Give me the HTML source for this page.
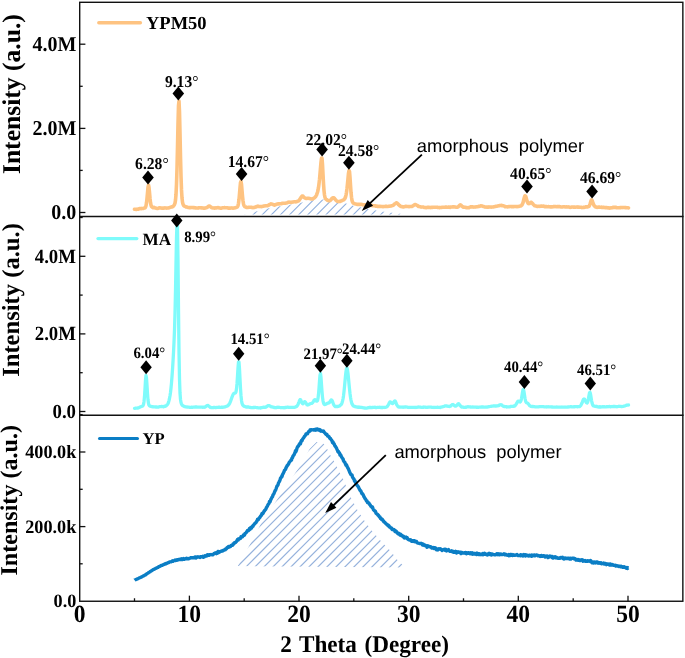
<!DOCTYPE html>
<html><head><meta charset="utf-8"><title>XRD</title>
<style>html,body{margin:0;padding:0;background:#fff;overflow:hidden}svg{display:block;will-change:transform}text{text-rendering:geometricPrecision;-webkit-font-smoothing:antialiased}</style>
</head><body>
<svg width="685" height="658" viewBox="0 0 685 658">
<rect width="685" height="658" fill="#fff"/>
<defs>
<clipPath id="h1"><path d="M244.0,214.6 L244.0,214.6 L246.0,214.1 L248.0,213.6 L250.0,213.1 L252.0,212.5 L254.0,212.0 L256.0,211.5 L258.0,211.0 L260.0,210.4 L262.0,209.9 L264.0,209.3 L266.0,208.8 L268.0,208.4 L270.0,208.0 L272.0,207.6 L274.0,207.2 L276.0,206.9 L278.0,206.6 L280.0,206.2 L282.0,205.9 L284.0,205.7 L286.0,205.4 L288.0,205.1 L290.0,204.8 L292.0,204.5 L294.0,204.1 L296.0,203.7 L298.0,203.3 L300.0,202.9 L302.0,202.5 L304.0,202.1 L306.0,201.7 L308.0,201.3 L310.0,200.9 L312.0,200.6 L314.0,200.3 L316.0,200.1 L318.0,199.8 L320.0,199.7 L322.0,199.6 L324.0,199.6 L326.0,199.7 L328.0,199.9 L330.0,200.1 L332.0,200.3 L334.0,200.5 L336.0,200.9 L338.0,201.3 L340.0,201.8 L342.0,202.3 L344.0,202.8 L346.0,203.4 L348.0,204.1 L350.0,204.7 L352.0,205.3 L354.0,205.9 L356.0,206.4 L358.0,206.8 L360.0,207.3 L362.0,207.8 L364.0,208.2 L366.0,208.6 L368.0,209.0 L370.0,209.4 L372.0,209.8 L374.0,210.1 L376.0,210.5 L378.0,210.8 L380.0,211.1 L382.0,211.4 L384.0,211.7 L386.0,212.0 L388.0,212.3 L390.0,212.5 L392.0,212.8 L394.0,213.0 L396.0,213.3 L398.0,213.5 L400.0,213.7 L402.0,213.9 L404.0,214.2 L406.0,214.4 L408.0,214.6 L408.0,214.6 Z"/></clipPath>
<clipPath id="h3"><path d="M237.8,566.0 L238.7,564.4 L250.5,543.5 L260.8,524.1 L276.7,500.2 L298.2,468.8 L309.8,448.7 L316.5,442.0 L323.8,443.8 L327.4,449.3 L330.5,455.4 L333.9,460.9 L336.9,466.9 L339.8,473.0 L342.9,478.5 L345.7,485.2 L348.7,491.3 L351.1,498.0 L357.8,510.7 L364.8,521.3 L371.9,530.8 L381.3,541.4 L390.8,551.2 L397.8,560.6 L405.5,567.5 L408.4,567.5 Z"/></clipPath>
<clipPath id="c2"><rect x="79.7" y="216.5" width="603.15" height="198.7"/></clipPath>
</defs>
<g clip-path="url(#h1)" stroke="#8eaedd" stroke-width="1.08" fill="none"><line x1="206.4" y1="216.0" x2="227.4" y2="195.0"/><line x1="215.5" y1="216.0" x2="236.5" y2="195.0"/><line x1="224.6" y1="216.0" x2="245.6" y2="195.0"/><line x1="233.7" y1="216.0" x2="254.7" y2="195.0"/><line x1="242.8" y1="216.0" x2="263.8" y2="195.0"/><line x1="251.9" y1="216.0" x2="272.9" y2="195.0"/><line x1="261.0" y1="216.0" x2="282.0" y2="195.0"/><line x1="270.1" y1="216.0" x2="291.1" y2="195.0"/><line x1="279.2" y1="216.0" x2="300.2" y2="195.0"/><line x1="288.3" y1="216.0" x2="309.3" y2="195.0"/><line x1="297.4" y1="216.0" x2="318.4" y2="195.0"/><line x1="306.5" y1="216.0" x2="327.5" y2="195.0"/><line x1="315.6" y1="216.0" x2="336.6" y2="195.0"/><line x1="324.7" y1="216.0" x2="345.7" y2="195.0"/><line x1="333.8" y1="216.0" x2="354.8" y2="195.0"/><line x1="342.9" y1="216.0" x2="363.9" y2="195.0"/><line x1="352.0" y1="216.0" x2="373.0" y2="195.0"/><line x1="361.1" y1="216.0" x2="382.1" y2="195.0"/><line x1="370.2" y1="216.0" x2="391.2" y2="195.0"/><line x1="379.3" y1="216.0" x2="400.3" y2="195.0"/><line x1="388.4" y1="216.0" x2="409.4" y2="195.0"/><line x1="397.5" y1="216.0" x2="418.5" y2="195.0"/><line x1="406.6" y1="216.0" x2="427.6" y2="195.0"/><line x1="415.7" y1="216.0" x2="436.7" y2="195.0"/></g>
<g clip-path="url(#h3)" stroke="#94b1dc" stroke-width="1.1" fill="none"><line x1="91.9" y1="568.0" x2="221.9" y2="438.0"/><line x1="100.9" y1="568.0" x2="230.9" y2="438.0"/><line x1="109.9" y1="568.0" x2="239.9" y2="438.0"/><line x1="118.9" y1="568.0" x2="248.9" y2="438.0"/><line x1="127.9" y1="568.0" x2="257.9" y2="438.0"/><line x1="136.9" y1="568.0" x2="266.9" y2="438.0"/><line x1="145.9" y1="568.0" x2="275.9" y2="438.0"/><line x1="154.9" y1="568.0" x2="284.9" y2="438.0"/><line x1="163.9" y1="568.0" x2="293.9" y2="438.0"/><line x1="172.9" y1="568.0" x2="302.9" y2="438.0"/><line x1="181.9" y1="568.0" x2="311.9" y2="438.0"/><line x1="190.9" y1="568.0" x2="320.9" y2="438.0"/><line x1="199.9" y1="568.0" x2="329.9" y2="438.0"/><line x1="208.9" y1="568.0" x2="338.9" y2="438.0"/><line x1="217.9" y1="568.0" x2="347.9" y2="438.0"/><line x1="226.9" y1="568.0" x2="356.9" y2="438.0"/><line x1="235.9" y1="568.0" x2="365.9" y2="438.0"/><line x1="244.9" y1="568.0" x2="374.9" y2="438.0"/><line x1="253.9" y1="568.0" x2="383.9" y2="438.0"/><line x1="262.9" y1="568.0" x2="392.9" y2="438.0"/><line x1="271.9" y1="568.0" x2="401.9" y2="438.0"/><line x1="280.9" y1="568.0" x2="410.9" y2="438.0"/><line x1="289.9" y1="568.0" x2="419.9" y2="438.0"/><line x1="298.9" y1="568.0" x2="428.9" y2="438.0"/><line x1="307.9" y1="568.0" x2="437.9" y2="438.0"/><line x1="316.9" y1="568.0" x2="446.9" y2="438.0"/><line x1="325.9" y1="568.0" x2="455.9" y2="438.0"/><line x1="334.9" y1="568.0" x2="464.9" y2="438.0"/><line x1="343.9" y1="568.0" x2="473.9" y2="438.0"/><line x1="352.9" y1="568.0" x2="482.9" y2="438.0"/><line x1="361.9" y1="568.0" x2="491.9" y2="438.0"/><line x1="370.9" y1="568.0" x2="500.9" y2="438.0"/><line x1="379.9" y1="568.0" x2="509.9" y2="438.0"/><line x1="388.9" y1="568.0" x2="518.9" y2="438.0"/><line x1="397.9" y1="568.0" x2="527.9" y2="438.0"/><line x1="406.9" y1="568.0" x2="536.9" y2="438.0"/><line x1="415.9" y1="568.0" x2="545.9" y2="438.0"/></g>
<path d="M134.5,209.2 L135.0,209.3 L135.5,209.3 L136.0,209.4 L136.5,209.4 L137.0,209.3 L137.5,209.2 L138.0,209.1 L138.5,209.1 L139.0,208.8 L139.5,208.5 L140.0,208.5 L140.5,208.6 L141.0,208.6 L141.5,208.6 L142.0,208.4 L142.5,208.5 L143.0,208.5 L143.5,208.3 L144.0,208.1 L144.5,207.9 L145.0,207.9 L145.5,207.2 L146.0,205.7 L146.5,202.9 L147.0,198.4 L147.5,192.8 L148.0,187.4 L148.5,185.0 L149.0,187.3 L149.5,192.5 L150.0,198.2 L150.5,202.7 L151.0,205.2 L151.5,206.6 L152.0,207.1 L152.5,207.3 L153.0,207.6 L153.5,207.4 L154.0,207.4 L154.5,207.7 L155.0,207.8 L155.5,208.0 L156.0,208.2 L156.5,208.3 L157.0,208.4 L157.5,208.5 L158.0,208.3 L158.5,208.1 L159.0,207.9 L159.5,207.9 L160.0,207.8 L160.5,207.9 L161.0,208.0 L161.5,208.1 L162.0,208.1 L162.5,208.3 L163.0,208.1 L163.5,208.0 L164.0,208.1 L164.5,207.9 L165.0,208.0 L165.5,207.9 L166.0,208.0 L166.5,208.1 L167.0,208.1 L167.5,208.0 L168.0,208.0 L168.5,207.8 L169.0,207.9 L169.5,207.5 L170.0,207.4 L170.5,207.3 L171.0,207.1 L171.5,206.9 L172.0,207.0 L172.5,206.7 L173.0,206.5 L173.5,205.9 L174.0,205.3 L174.5,204.5 L175.0,203.1 L175.5,200.1 L176.0,194.5 L176.5,184.4 L177.0,168.7 L177.5,147.4 L178.0,124.0 L178.5,105.8 L179.0,101.1 L179.5,112.2 L180.0,133.5 L180.5,156.7 L181.0,176.1 L181.5,189.9 L182.0,198.0 L182.5,202.1 L183.0,204.1 L183.5,205.3 L184.0,205.9 L184.5,206.2 L185.0,206.4 L185.5,206.6 L186.0,206.9 L186.5,207.0 L187.0,207.1 L187.5,207.3 L188.0,207.4 L188.5,207.5 L189.0,207.7 L189.5,207.6 L190.0,207.7 L190.5,207.7 L191.0,207.5 L191.5,207.5 L192.0,207.6 L192.5,207.5 L193.0,207.6 L193.5,207.6 L194.0,207.6 L194.5,207.7 L195.0,207.9 L195.5,207.9 L196.0,207.9 L196.5,208.0 L197.0,208.0 L197.5,208.0 L198.0,208.1 L198.5,207.9 L199.0,207.7 L199.5,207.7 L200.0,207.7 L200.5,207.7 L201.0,207.9 L201.5,207.7 L202.0,207.8 L202.5,208.0 L203.0,208.1 L203.5,208.1 L204.0,208.2 L204.5,208.0 L205.0,208.1 L205.5,207.9 L206.0,207.8 L206.5,207.8 L207.0,207.5 L207.5,207.1 L208.0,206.8 L208.5,206.2 L209.0,206.1 L209.5,206.0 L210.0,206.3 L210.5,206.7 L211.0,207.0 L211.5,207.6 L212.0,207.8 L212.5,207.7 L213.0,208.0 L213.5,207.9 L214.0,208.0 L214.5,208.2 L215.0,207.9 L215.5,207.9 L216.0,208.0 L216.5,207.8 L217.0,207.8 L217.5,207.7 L218.0,207.6 L218.5,207.7 L219.0,207.8 L219.5,208.0 L220.0,208.1 L220.5,208.2 L221.0,208.3 L221.5,208.1 L222.0,207.9 L222.5,207.8 L223.0,207.7 L223.5,207.7 L224.0,207.7 L224.5,207.6 L225.0,207.7 L225.5,207.7 L226.0,207.8 L226.5,207.8 L227.0,207.7 L227.5,207.9 L228.0,208.1 L228.5,208.2 L229.0,208.1 L229.5,208.1 L230.0,208.1 L230.5,208.1 L231.0,208.0 L231.5,207.9 L232.0,208.0 L232.5,208.1 L233.0,208.1 L233.5,208.1 L234.0,208.0 L234.5,207.9 L235.0,207.9 L235.5,207.7 L236.0,207.6 L236.5,207.4 L237.0,207.2 L237.5,206.7 L238.0,205.7 L238.5,203.3 L239.0,199.6 L239.5,194.0 L240.0,187.9 L240.5,182.7 L241.0,181.4 L241.5,184.4 L242.0,190.3 L242.5,196.1 L243.0,200.8 L243.5,203.9 L244.0,205.6 L244.5,206.4 L245.0,206.8 L245.5,206.8 L246.0,207.1 L246.5,207.4 L247.0,207.4 L247.5,207.5 L248.0,207.4 L248.5,207.3 L249.0,207.3 L249.5,207.2 L250.0,207.2 L250.5,207.2 L251.0,207.2 L251.5,207.3 L252.0,207.5 L252.5,207.6 L253.0,207.7 L253.5,207.6 L254.0,207.5 L254.5,207.5 L255.0,207.2 L255.5,207.0 L256.0,206.9 L256.5,206.6 L257.0,206.5 L257.5,206.4 L258.0,206.1 L258.5,206.5 L259.0,206.5 L259.5,206.5 L260.0,206.6 L260.5,206.5 L261.0,206.6 L261.5,206.7 L262.0,206.5 L262.5,206.3 L263.0,206.3 L263.5,206.1 L264.0,206.0 L264.5,206.0 L265.0,205.8 L265.5,205.7 L266.0,205.8 L266.5,205.8 L267.0,205.7 L267.5,205.7 L268.0,205.4 L268.5,205.3 L269.0,204.9 L269.5,204.6 L270.0,204.3 L270.5,204.1 L271.0,203.8 L271.5,204.0 L272.0,204.2 L272.5,204.4 L273.0,204.5 L273.5,204.7 L274.0,204.8 L274.5,205.1 L275.0,204.8 L275.5,204.6 L276.0,204.5 L276.5,204.3 L277.0,204.1 L277.5,204.0 L278.0,203.7 L278.5,203.8 L279.0,203.9 L279.5,203.8 L280.0,203.7 L280.5,203.7 L281.0,203.7 L281.5,203.7 L282.0,203.4 L282.5,203.2 L283.0,203.3 L283.5,203.2 L284.0,203.3 L284.5,203.2 L285.0,203.2 L285.5,203.2 L286.0,203.1 L286.5,203.0 L287.0,202.8 L287.5,202.6 L288.0,202.3 L288.5,202.2 L289.0,202.1 L289.5,202.2 L290.0,202.2 L290.5,202.4 L291.0,202.4 L291.5,202.3 L292.0,202.1 L292.5,202.1 L293.0,202.0 L293.5,201.9 L294.0,201.8 L294.5,201.7 L295.0,201.7 L295.5,201.8 L296.0,201.9 L296.5,201.7 L297.0,201.5 L297.5,201.3 L298.0,201.0 L298.5,200.9 L299.0,200.4 L299.5,199.7 L300.0,198.9 L300.5,198.3 L301.0,197.5 L301.5,196.9 L302.0,196.1 L302.5,196.1 L303.0,196.1 L303.5,196.8 L304.0,197.4 L304.5,197.7 L305.0,198.0 L305.5,198.3 L306.0,198.4 L306.5,198.5 L307.0,198.4 L307.5,198.2 L308.0,198.2 L308.5,198.2 L309.0,198.4 L309.5,198.5 L310.0,198.7 L310.5,198.7 L311.0,198.9 L311.5,199.0 L312.0,199.0 L312.5,198.9 L313.0,198.6 L313.5,198.3 L314.0,198.1 L314.5,197.8 L315.0,197.3 L315.5,196.8 L316.0,195.9 L316.5,195.1 L317.0,193.7 L317.5,192.2 L318.0,190.2 L318.5,187.4 L319.0,183.7 L319.5,179.4 L320.0,174.0 L320.5,167.9 L321.0,162.2 L321.5,158.1 L322.0,158.1 L322.5,164.6 L323.0,174.4 L323.5,183.6 L324.0,190.6 L324.5,195.0 L325.0,197.5 L325.5,198.6 L326.0,199.2 L326.5,199.5 L327.0,199.9 L327.5,200.3 L328.0,200.5 L328.5,200.6 L329.0,200.7 L329.5,200.7 L330.0,200.6 L330.5,200.3 L331.0,199.6 L331.5,199.0 L332.0,198.4 L332.5,198.1 L333.0,197.8 L333.5,197.7 L334.0,197.9 L334.5,198.5 L335.0,199.1 L335.5,199.8 L336.0,200.3 L336.5,200.7 L337.0,201.1 L337.5,201.3 L338.0,201.5 L338.5,201.6 L339.0,201.5 L339.5,201.5 L340.0,201.4 L340.5,201.1 L341.0,201.0 L341.5,200.8 L342.0,200.6 L342.5,200.3 L343.0,200.1 L343.5,199.9 L344.0,199.6 L344.5,199.1 L345.0,198.3 L345.5,197.0 L346.0,195.1 L346.5,192.2 L347.0,188.4 L347.5,183.6 L348.0,178.3 L348.5,173.3 L349.0,170.5 L349.5,171.5 L350.0,177.3 L350.5,185.1 L351.0,192.3 L351.5,197.3 L352.0,200.4 L352.5,202.0 L353.0,202.7 L353.5,203.2 L354.0,203.4 L354.5,203.6 L355.0,203.8 L355.5,204.0 L356.0,204.1 L356.5,204.2 L357.0,204.4 L357.5,204.3 L358.0,204.3 L358.5,204.4 L359.0,204.2 L359.5,204.2 L360.0,204.5 L360.5,204.3 L361.0,204.4 L361.5,204.4 L362.0,204.5 L362.5,204.7 L363.0,204.9 L363.5,204.7 L364.0,204.9 L364.5,204.8 L365.0,204.9 L365.5,204.9 L366.0,204.7 L366.5,204.7 L367.0,204.9 L367.5,204.9 L368.0,205.0 L368.5,205.0 L369.0,205.1 L369.5,205.2 L370.0,205.3 L370.5,205.3 L371.0,205.4 L371.5,205.4 L372.0,205.4 L372.5,205.6 L373.0,205.8 L373.5,205.7 L374.0,205.7 L374.5,205.8 L375.0,205.8 L375.5,206.2 L376.0,206.1 L376.5,206.0 L377.0,206.3 L377.5,206.4 L378.0,206.3 L378.5,206.5 L379.0,206.2 L379.5,206.4 L380.0,206.5 L380.5,206.4 L381.0,206.4 L381.5,206.5 L382.0,206.5 L382.5,206.6 L383.0,206.6 L383.5,206.6 L384.0,206.5 L384.5,206.5 L385.0,206.4 L385.5,206.3 L386.0,206.4 L386.5,206.3 L387.0,206.4 L387.5,206.5 L388.0,206.4 L388.5,206.3 L389.0,206.3 L389.5,206.3 L390.0,206.2 L390.5,206.0 L391.0,206.0 L391.5,205.8 L392.0,205.7 L392.5,205.6 L393.0,205.4 L393.5,205.1 L394.0,204.6 L394.5,204.1 L395.0,203.8 L395.5,203.5 L396.0,203.1 L396.5,202.8 L397.0,202.9 L397.5,203.4 L398.0,203.9 L398.5,204.6 L399.0,205.0 L399.5,205.5 L400.0,205.9 L400.5,206.2 L401.0,206.5 L401.5,206.6 L402.0,206.5 L402.5,206.8 L403.0,206.9 L403.5,206.9 L404.0,206.8 L404.5,206.7 L405.0,206.6 L405.5,206.4 L406.0,206.4 L406.5,206.4 L407.0,206.5 L407.5,206.5 L408.0,206.5 L408.5,206.5 L409.0,206.8 L409.5,206.5 L410.0,206.5 L410.5,206.5 L411.0,206.5 L411.5,206.5 L412.0,206.4 L412.5,205.9 L413.0,205.8 L413.5,205.6 L414.0,205.1 L414.5,204.7 L415.0,204.6 L415.5,204.6 L416.0,204.9 L416.5,205.1 L417.0,205.3 L417.5,205.6 L418.0,206.1 L418.5,206.4 L419.0,206.5 L419.5,206.6 L420.0,206.7 L420.5,206.9 L421.0,207.0 L421.5,207.1 L422.0,207.0 L422.5,207.0 L423.0,207.0 L423.5,207.1 L424.0,207.3 L424.5,207.5 L425.0,207.5 L425.5,207.6 L426.0,207.6 L426.5,207.6 L427.0,207.4 L427.5,207.3 L428.0,207.4 L428.5,207.4 L429.0,207.2 L429.5,207.5 L430.0,207.4 L430.5,207.6 L431.0,207.5 L431.5,207.2 L432.0,207.2 L432.5,207.4 L433.0,207.2 L433.5,207.2 L434.0,207.2 L434.5,207.2 L435.0,207.3 L435.5,207.3 L436.0,207.2 L436.5,207.2 L437.0,207.3 L437.5,207.4 L438.0,207.4 L438.5,207.5 L439.0,207.6 L439.5,207.7 L440.0,207.6 L440.5,207.5 L441.0,207.5 L441.5,207.4 L442.0,207.4 L442.5,207.2 L443.0,207.2 L443.5,207.2 L444.0,207.3 L444.5,207.3 L445.0,207.2 L445.5,207.1 L446.0,207.1 L446.5,207.0 L447.0,207.3 L447.5,207.2 L448.0,207.2 L448.5,207.1 L449.0,207.1 L449.5,207.2 L450.0,207.4 L450.5,207.1 L451.0,207.0 L451.5,207.0 L452.0,207.0 L452.5,206.9 L453.0,206.9 L453.5,206.8 L454.0,206.8 L454.5,206.9 L455.0,207.0 L455.5,207.1 L456.0,207.2 L456.5,207.3 L457.0,207.3 L457.5,207.2 L458.0,207.1 L458.5,206.6 L459.0,206.1 L459.5,205.5 L460.0,205.0 L460.5,204.8 L461.0,205.2 L461.5,205.7 L462.0,206.3 L462.5,206.6 L463.0,207.1 L463.5,207.0 L464.0,207.2 L464.5,207.2 L465.0,207.2 L465.5,207.2 L466.0,207.6 L466.5,207.5 L467.0,207.7 L467.5,207.7 L468.0,207.8 L468.5,207.6 L469.0,207.6 L469.5,207.3 L470.0,207.1 L470.5,206.9 L471.0,206.9 L471.5,206.8 L472.0,206.9 L472.5,206.8 L473.0,206.9 L473.5,207.1 L474.0,207.0 L474.5,207.0 L475.0,207.1 L475.5,207.0 L476.0,206.8 L476.5,206.7 L477.0,206.8 L477.5,206.8 L478.0,206.6 L478.5,206.4 L479.0,206.4 L479.5,206.3 L480.0,206.2 L480.5,205.8 L481.0,205.8 L481.5,205.9 L482.0,206.0 L482.5,206.1 L483.0,206.3 L483.5,206.5 L484.0,206.7 L484.5,206.9 L485.0,207.0 L485.5,207.1 L486.0,207.0 L486.5,207.1 L487.0,207.1 L487.5,207.1 L488.0,207.1 L488.5,207.1 L489.0,206.9 L489.5,207.0 L490.0,207.1 L490.5,207.0 L491.0,207.1 L491.5,207.1 L492.0,207.0 L492.5,207.0 L493.0,207.0 L493.5,206.8 L494.0,206.8 L494.5,206.7 L495.0,206.6 L495.5,206.4 L496.0,206.4 L496.5,206.2 L497.0,206.2 L497.5,206.1 L498.0,205.9 L498.5,205.8 L499.0,205.7 L499.5,205.6 L500.0,205.6 L500.5,205.5 L501.0,205.3 L501.5,205.3 L502.0,205.6 L502.5,205.6 L503.0,205.8 L503.5,205.8 L504.0,205.9 L504.5,206.3 L505.0,206.6 L505.5,206.5 L506.0,206.8 L506.5,206.8 L507.0,206.7 L507.5,206.9 L508.0,206.8 L508.5,206.6 L509.0,206.8 L509.5,206.5 L510.0,206.5 L510.5,206.5 L511.0,206.6 L511.5,206.6 L512.0,206.7 L512.5,206.5 L513.0,206.6 L513.5,206.7 L514.0,206.7 L514.5,206.5 L515.0,206.5 L515.5,206.5 L516.0,206.6 L516.5,206.6 L517.0,206.5 L517.5,206.6 L518.0,206.6 L518.5,206.5 L519.0,206.3 L519.5,206.2 L520.0,206.2 L520.5,206.0 L521.0,205.8 L521.5,205.4 L522.0,204.9 L522.5,203.9 L523.0,202.7 L523.5,200.8 L524.0,198.8 L524.5,196.9 L525.0,195.8 L525.5,195.9 L526.0,197.2 L526.5,199.0 L527.0,200.9 L527.5,202.3 L528.0,203.3 L528.5,203.6 L529.0,203.7 L529.5,203.5 L530.0,203.0 L530.5,202.6 L531.0,202.2 L531.5,202.4 L532.0,202.9 L532.5,203.4 L533.0,204.1 L533.5,204.7 L534.0,205.0 L534.5,205.7 L535.0,205.8 L535.5,205.9 L536.0,206.1 L536.5,206.2 L537.0,206.3 L537.5,206.5 L538.0,206.3 L538.5,206.3 L539.0,206.3 L539.5,206.3 L540.0,206.4 L540.5,206.2 L541.0,206.1 L541.5,206.1 L542.0,206.2 L542.5,206.2 L543.0,206.2 L543.5,206.0 L544.0,206.4 L544.5,206.6 L545.0,206.6 L545.5,206.6 L546.0,206.7 L546.5,206.6 L547.0,206.8 L547.5,206.7 L548.0,206.7 L548.5,206.6 L549.0,206.7 L549.5,206.7 L550.0,206.9 L550.5,206.9 L551.0,206.9 L551.5,206.9 L552.0,206.9 L552.5,206.8 L553.0,206.7 L553.5,206.6 L554.0,206.7 L554.5,206.6 L555.0,206.5 L555.5,206.6 L556.0,206.7 L556.5,206.7 L557.0,206.7 L557.5,206.5 L558.0,206.6 L558.5,206.5 L559.0,206.7 L559.5,206.6 L560.0,206.7 L560.5,206.7 L561.0,207.0 L561.5,207.0 L562.0,207.0 L562.5,206.9 L563.0,206.8 L563.5,206.8 L564.0,206.8 L564.5,206.7 L565.0,206.9 L565.5,207.0 L566.0,207.0 L566.5,206.8 L567.0,206.8 L567.5,207.0 L568.0,207.0 L568.5,206.9 L569.0,207.1 L569.5,207.2 L570.0,207.4 L570.5,207.3 L571.0,207.2 L571.5,207.2 L572.0,207.0 L572.5,207.0 L573.0,207.1 L573.5,207.1 L574.0,207.1 L574.5,207.1 L575.0,207.2 L575.5,207.2 L576.0,207.2 L576.5,207.0 L577.0,207.0 L577.5,207.2 L578.0,207.2 L578.5,207.0 L579.0,207.2 L579.5,207.2 L580.0,207.3 L580.5,207.3 L581.0,207.2 L581.5,207.4 L582.0,207.6 L582.5,207.5 L583.0,207.4 L583.5,207.4 L584.0,207.4 L584.5,207.3 L585.0,207.2 L585.5,206.8 L586.0,206.9 L586.5,206.9 L587.0,206.9 L587.5,206.9 L588.0,206.8 L588.5,206.5 L589.0,206.3 L589.5,205.4 L590.0,204.1 L590.5,202.5 L591.0,200.8 L591.5,199.8 L592.0,200.3 L592.5,201.5 L593.0,203.2 L593.5,204.4 L594.0,205.4 L594.5,206.1 L595.0,206.6 L595.5,206.9 L596.0,207.1 L596.5,207.0 L597.0,207.4 L597.5,207.3 L598.0,207.3 L598.5,207.0 L599.0,207.0 L599.5,207.2 L600.0,207.3 L600.5,207.2 L601.0,207.3 L601.5,207.1 L602.0,207.4 L602.5,207.5 L603.0,207.4 L603.5,207.4 L604.0,207.3 L604.5,207.5 L605.0,207.7 L605.5,207.6 L606.0,207.5 L606.5,207.7 L607.0,207.6 L607.5,207.8 L608.0,207.9 L608.5,207.8 L609.0,207.9 L609.5,208.1 L610.0,207.9 L610.5,208.0 L611.0,207.8 L611.5,207.7 L612.0,207.8 L612.5,207.7 L613.0,207.4 L613.5,207.4 L614.0,207.4 L614.5,207.4 L615.0,207.4 L615.5,207.4 L616.0,207.4 L616.5,207.7 L617.0,207.8 L617.5,207.8 L618.0,207.7 L618.5,207.8 L619.0,207.8 L619.5,207.8 L620.0,207.7 L620.5,207.5 L621.0,207.7 L621.5,207.5 L622.0,207.5 L622.5,207.6 L623.0,207.5 L623.5,207.5 L624.0,207.5 L624.5,207.5 L625.0,207.7 L625.5,207.6 L626.0,207.6 L626.5,207.8 L627.0,207.7 L627.5,207.8 L628.0,207.8 L628.5,207.9" fill="none" stroke="#fec381" stroke-width="3.6" stroke-linejoin="round" stroke-linecap="round"/>
<path d="M134.5,408.3 L135.0,408.3 L135.5,408.2 L136.0,408.2 L136.5,408.1 L137.0,408.1 L137.5,408.1 L138.0,407.9 L138.5,407.9 L139.0,407.6 L139.5,407.3 L140.0,407.0 L140.5,406.9 L141.0,406.6 L141.5,406.5 L142.0,406.3 L142.5,406.1 L143.0,405.6 L143.5,404.4 L144.0,401.7 L144.5,396.5 L145.0,388.8 L145.5,380.2 L146.0,375.5 L146.5,377.8 L147.0,385.4 L147.5,393.7 L148.0,399.8 L148.5,403.5 L149.0,405.2 L149.5,406.0 L150.0,406.0 L150.5,406.2 L151.0,406.4 L151.5,406.7 L152.0,406.6 L152.5,406.8 L153.0,406.6 L153.5,406.9 L154.0,406.9 L154.5,406.8 L155.0,406.9 L155.5,407.0 L156.0,407.0 L156.5,407.0 L157.0,407.0 L157.5,407.1 L158.0,407.0 L158.5,407.1 L159.0,406.8 L159.5,406.7 L160.0,406.6 L160.5,406.7 L161.0,406.6 L161.5,406.6 L162.0,406.4 L162.5,406.7 L163.0,406.7 L163.5,406.8 L164.0,406.5 L164.5,406.2 L165.0,406.2 L165.5,406.3 L166.0,405.9 L166.5,405.5 L167.0,404.9 L167.5,404.5 L168.0,403.7 L168.5,402.4 L169.0,400.6 L169.5,398.5 L170.0,395.8 L170.5,392.5 L171.0,388.0 L171.5,382.8 L172.0,376.6 L172.5,369.6 L173.0,361.7 L173.5,352.7 L174.0,342.4 L174.5,330.1 L175.0,313.2 L175.5,290.7 L176.0,263.6 L176.5,237.7 L177.0,222.5 L177.5,226.8 L178.0,260.4 L178.5,309.5 L179.0,352.0 L179.5,378.9 L180.0,393.0 L180.5,399.5 L181.0,402.5 L181.5,404.1 L182.0,404.9 L182.5,405.5 L183.0,405.8 L183.5,406.0 L184.0,406.3 L184.5,406.6 L185.0,406.7 L185.5,406.8 L186.0,406.8 L186.5,407.0 L187.0,407.1 L187.5,407.0 L188.0,407.2 L188.5,407.2 L189.0,407.2 L189.5,407.3 L190.0,407.3 L190.5,407.3 L191.0,407.3 L191.5,407.2 L192.0,407.3 L192.5,407.3 L193.0,407.2 L193.5,407.2 L194.0,407.1 L194.5,407.1 L195.0,407.1 L195.5,406.9 L196.0,406.9 L196.5,407.1 L197.0,407.0 L197.5,407.1 L198.0,407.1 L198.5,407.1 L199.0,407.1 L199.5,407.2 L200.0,407.2 L200.5,407.2 L201.0,407.1 L201.5,407.1 L202.0,407.1 L202.5,407.3 L203.0,407.3 L203.5,407.2 L204.0,407.1 L204.5,407.3 L205.0,407.1 L205.5,406.8 L206.0,406.4 L206.5,405.9 L207.0,405.6 L207.5,405.5 L208.0,405.5 L208.5,405.8 L209.0,406.3 L209.5,406.7 L210.0,407.2 L210.5,407.5 L211.0,407.6 L211.5,407.5 L212.0,407.6 L212.5,407.6 L213.0,407.6 L213.5,407.6 L214.0,407.4 L214.5,407.3 L215.0,407.5 L215.5,407.6 L216.0,407.6 L216.5,407.3 L217.0,407.3 L217.5,407.3 L218.0,407.4 L218.5,407.3 L219.0,407.1 L219.5,407.2 L220.0,407.4 L220.5,407.4 L221.0,407.3 L221.5,407.2 L222.0,407.2 L222.5,407.3 L223.0,407.3 L223.5,407.1 L224.0,407.0 L224.5,407.0 L225.0,406.9 L225.5,406.7 L226.0,406.5 L226.5,406.3 L227.0,406.1 L227.5,405.9 L228.0,405.5 L228.5,405.0 L229.0,404.5 L229.5,403.7 L230.0,402.6 L230.5,401.4 L231.0,400.0 L231.5,398.6 L232.0,397.1 L232.5,395.8 L233.0,394.6 L233.5,393.8 L234.0,393.4 L234.5,393.2 L235.0,393.2 L235.5,392.9 L236.0,391.8 L236.5,388.9 L237.0,383.7 L237.5,376.1 L238.0,367.9 L238.5,361.9 L239.0,362.1 L239.5,368.8 L240.0,378.8 L240.5,388.4 L241.0,395.7 L241.5,400.5 L242.0,403.2 L242.5,404.6 L243.0,405.4 L243.5,405.9 L244.0,406.1 L244.5,406.5 L245.0,406.6 L245.5,406.8 L246.0,407.0 L246.5,407.0 L247.0,407.0 L247.5,407.0 L248.0,406.9 L248.5,407.1 L249.0,407.2 L249.5,407.3 L250.0,407.3 L250.5,407.3 L251.0,407.6 L251.5,407.6 L252.0,407.7 L252.5,407.6 L253.0,407.5 L253.5,407.5 L254.0,407.5 L254.5,407.5 L255.0,407.4 L255.5,407.4 L256.0,407.5 L256.5,407.6 L257.0,407.7 L257.5,407.7 L258.0,407.8 L258.5,407.8 L259.0,407.8 L259.5,407.8 L260.0,407.8 L260.5,408.0 L261.0,407.7 L261.5,407.6 L262.0,407.6 L262.5,407.5 L263.0,407.3 L263.5,407.3 L264.0,407.1 L264.5,407.4 L265.0,407.2 L265.5,407.3 L266.0,407.1 L266.5,406.8 L267.0,406.4 L267.5,406.0 L268.0,405.6 L268.5,405.6 L269.0,405.6 L269.5,405.8 L270.0,406.1 L270.5,406.3 L271.0,406.7 L271.5,406.9 L272.0,407.0 L272.5,407.0 L273.0,407.2 L273.5,407.2 L274.0,407.4 L274.5,407.6 L275.0,407.6 L275.5,407.6 L276.0,407.8 L276.5,407.4 L277.0,407.4 L277.5,407.3 L278.0,407.2 L278.5,407.3 L279.0,407.3 L279.5,407.4 L280.0,407.5 L280.5,407.6 L281.0,407.7 L281.5,407.7 L282.0,407.7 L282.5,407.7 L283.0,407.6 L283.5,407.7 L284.0,407.8 L284.5,407.7 L285.0,407.5 L285.5,407.5 L286.0,407.5 L286.5,407.4 L287.0,407.2 L287.5,407.2 L288.0,407.2 L288.5,407.3 L289.0,407.3 L289.5,407.3 L290.0,407.3 L290.5,407.3 L291.0,407.3 L291.5,407.3 L292.0,407.3 L292.5,407.3 L293.0,407.3 L293.5,407.3 L294.0,407.3 L294.5,407.3 L295.0,407.2 L295.5,407.0 L296.0,406.8 L296.5,406.5 L297.0,406.1 L297.5,405.4 L298.0,404.4 L298.5,403.3 L299.0,402.0 L299.5,400.6 L300.0,399.7 L300.5,399.6 L301.0,400.5 L301.5,401.8 L302.0,402.8 L302.5,403.5 L303.0,403.8 L303.5,403.2 L304.0,402.4 L304.5,401.7 L305.0,401.7 L305.5,402.3 L306.0,403.2 L306.5,404.0 L307.0,404.8 L307.5,405.0 L308.0,404.9 L308.5,404.6 L309.0,404.4 L309.5,404.1 L310.0,403.8 L310.5,403.6 L311.0,403.5 L311.5,403.4 L312.0,403.2 L312.5,402.8 L313.0,402.1 L313.5,401.3 L314.0,400.4 L314.5,399.8 L315.0,399.7 L315.5,400.0 L316.0,400.6 L316.5,401.2 L317.0,401.1 L317.5,400.6 L318.0,398.4 L318.5,394.3 L319.0,388.5 L319.5,381.2 L320.0,375.2 L320.5,373.4 L321.0,377.5 L321.5,384.6 L322.0,391.7 L322.5,397.1 L323.0,400.8 L323.5,402.8 L324.0,404.0 L324.5,404.5 L325.0,404.5 L325.5,404.3 L326.0,404.1 L326.5,403.8 L327.0,403.5 L327.5,403.3 L328.0,403.1 L328.5,403.1 L329.0,403.0 L329.5,402.4 L330.0,401.6 L330.5,400.8 L331.0,400.1 L331.5,399.9 L332.0,400.4 L332.5,401.5 L333.0,402.9 L333.5,404.2 L334.0,405.1 L334.5,405.9 L335.0,406.4 L335.5,406.6 L336.0,406.5 L336.5,406.5 L337.0,406.5 L337.5,406.5 L338.0,406.5 L338.5,406.4 L339.0,406.1 L339.5,406.0 L340.0,405.5 L340.5,405.2 L341.0,404.7 L341.5,404.1 L342.0,402.8 L342.5,401.2 L343.0,399.0 L343.5,395.9 L344.0,391.6 L344.5,386.7 L345.0,381.2 L345.5,376.0 L346.0,371.5 L346.5,368.5 L347.0,367.8 L347.5,369.8 L348.0,373.4 L348.5,378.3 L349.0,383.8 L349.5,388.9 L350.0,393.5 L350.5,397.3 L351.0,400.1 L351.5,402.3 L352.0,403.9 L352.5,404.8 L353.0,405.5 L353.5,406.0 L354.0,406.2 L354.5,406.4 L355.0,406.6 L355.5,406.7 L356.0,406.9 L356.5,407.0 L357.0,407.0 L357.5,407.2 L358.0,407.3 L358.5,407.2 L359.0,407.3 L359.5,407.1 L360.0,407.3 L360.5,407.4 L361.0,407.3 L361.5,407.3 L362.0,407.5 L362.5,407.7 L363.0,407.6 L363.5,407.9 L364.0,407.8 L364.5,407.9 L365.0,408.1 L365.5,408.1 L366.0,408.1 L366.5,408.2 L367.0,408.0 L367.5,407.9 L368.0,407.8 L368.5,407.6 L369.0,407.5 L369.5,407.5 L370.0,407.5 L370.5,407.4 L371.0,407.6 L371.5,407.6 L372.0,407.5 L372.5,407.5 L373.0,407.4 L373.5,407.3 L374.0,407.3 L374.5,407.3 L375.0,407.2 L375.5,407.4 L376.0,407.6 L376.5,407.6 L377.0,407.5 L377.5,407.4 L378.0,407.3 L378.5,407.4 L379.0,407.4 L379.5,407.2 L380.0,407.4 L380.5,407.5 L381.0,407.4 L381.5,407.6 L382.0,407.5 L382.5,407.5 L383.0,407.5 L383.5,407.4 L384.0,407.4 L384.5,407.5 L385.0,407.4 L385.5,407.3 L386.0,407.2 L386.5,407.0 L387.0,406.7 L387.5,406.1 L388.0,405.4 L388.5,404.5 L389.0,403.5 L389.5,402.5 L390.0,401.9 L390.5,401.8 L391.0,402.3 L391.5,402.9 L392.0,403.5 L392.5,403.6 L393.0,403.3 L393.5,402.7 L394.0,401.7 L394.5,401.0 L395.0,400.9 L395.5,401.5 L396.0,402.8 L396.5,404.3 L397.0,405.1 L397.5,405.9 L398.0,406.6 L398.5,407.0 L399.0,407.1 L399.5,407.0 L400.0,407.0 L400.5,407.2 L401.0,407.2 L401.5,407.1 L402.0,407.0 L402.5,407.1 L403.0,407.3 L403.5,407.2 L404.0,407.1 L404.5,407.0 L405.0,407.1 L405.5,406.9 L406.0,406.9 L406.5,407.0 L407.0,407.1 L407.5,407.2 L408.0,407.4 L408.5,407.4 L409.0,407.5 L409.5,407.4 L410.0,407.3 L410.5,407.3 L411.0,407.4 L411.5,407.3 L412.0,407.4 L412.5,407.3 L413.0,407.4 L413.5,407.4 L414.0,407.4 L414.5,407.4 L415.0,407.5 L415.5,407.4 L416.0,407.5 L416.5,407.4 L417.0,407.3 L417.5,407.2 L418.0,407.1 L418.5,407.0 L419.0,407.0 L419.5,407.1 L420.0,407.1 L420.5,407.2 L421.0,407.3 L421.5,407.3 L422.0,407.3 L422.5,407.3 L423.0,407.2 L423.5,407.3 L424.0,407.0 L424.5,407.1 L425.0,407.1 L425.5,407.3 L426.0,407.3 L426.5,407.4 L427.0,407.2 L427.5,407.4 L428.0,407.2 L428.5,407.2 L429.0,407.2 L429.5,407.2 L430.0,407.2 L430.5,407.1 L431.0,407.1 L431.5,407.3 L432.0,407.3 L432.5,407.3 L433.0,407.3 L433.5,407.4 L434.0,407.5 L434.5,407.4 L435.0,407.4 L435.5,407.4 L436.0,407.3 L436.5,407.3 L437.0,407.3 L437.5,407.2 L438.0,407.3 L438.5,407.4 L439.0,407.4 L439.5,407.4 L440.0,407.5 L440.5,407.2 L441.0,407.2 L441.5,407.2 L442.0,406.9 L442.5,406.8 L443.0,406.7 L443.5,406.5 L444.0,406.4 L444.5,406.2 L445.0,405.8 L445.5,405.8 L446.0,405.8 L446.5,406.0 L447.0,406.0 L447.5,406.1 L448.0,406.3 L448.5,406.4 L449.0,406.4 L449.5,406.5 L450.0,406.2 L450.5,406.1 L451.0,405.7 L451.5,405.2 L452.0,404.8 L452.5,404.6 L453.0,404.5 L453.5,404.9 L454.0,405.2 L454.5,405.6 L455.0,406.1 L455.5,406.2 L456.0,406.0 L456.5,405.7 L457.0,405.2 L457.5,404.5 L458.0,403.9 L458.5,403.6 L459.0,404.0 L459.5,404.8 L460.0,405.5 L460.5,405.9 L461.0,406.5 L461.5,406.9 L462.0,407.1 L462.5,407.0 L463.0,407.1 L463.5,407.2 L464.0,407.4 L464.5,407.3 L465.0,407.3 L465.5,407.2 L466.0,407.3 L466.5,407.0 L467.0,406.9 L467.5,406.8 L468.0,406.7 L468.5,406.8 L469.0,406.9 L469.5,406.9 L470.0,407.0 L470.5,406.9 L471.0,407.1 L471.5,407.2 L472.0,407.1 L472.5,407.0 L473.0,406.8 L473.5,407.1 L474.0,407.1 L474.5,407.1 L475.0,407.0 L475.5,407.1 L476.0,407.2 L476.5,407.3 L477.0,407.2 L477.5,407.2 L478.0,407.3 L478.5,407.3 L479.0,407.2 L479.5,407.2 L480.0,407.2 L480.5,407.1 L481.0,407.1 L481.5,406.9 L482.0,407.0 L482.5,407.0 L483.0,407.0 L483.5,407.0 L484.0,407.1 L484.5,407.1 L485.0,407.1 L485.5,407.2 L486.0,407.0 L486.5,407.1 L487.0,407.1 L487.5,406.9 L488.0,406.9 L488.5,406.8 L489.0,406.6 L489.5,406.6 L490.0,406.5 L490.5,406.4 L491.0,406.4 L491.5,406.2 L492.0,406.2 L492.5,406.1 L493.0,406.0 L493.5,406.0 L494.0,405.9 L494.5,406.0 L495.0,406.0 L495.5,406.0 L496.0,406.0 L496.5,406.0 L497.0,405.9 L497.5,405.9 L498.0,405.8 L498.5,405.6 L499.0,405.4 L499.5,405.0 L500.0,404.8 L500.5,404.8 L501.0,404.7 L501.5,404.9 L502.0,405.3 L502.5,405.7 L503.0,406.2 L503.5,406.3 L504.0,406.4 L504.5,406.6 L505.0,406.7 L505.5,406.7 L506.0,406.6 L506.5,406.7 L507.0,407.0 L507.5,406.9 L508.0,406.9 L508.5,406.9 L509.0,406.9 L509.5,406.9 L510.0,406.8 L510.5,406.5 L511.0,406.5 L511.5,406.4 L512.0,406.4 L512.5,406.3 L513.0,406.3 L513.5,406.2 L514.0,406.3 L514.5,406.1 L515.0,405.8 L515.5,405.1 L516.0,404.5 L516.5,403.7 L517.0,402.7 L517.5,401.8 L518.0,401.1 L518.5,401.1 L519.0,401.5 L519.5,401.8 L520.0,402.0 L520.5,401.7 L521.0,400.5 L521.5,398.6 L522.0,395.4 L522.5,392.2 L523.0,389.7 L523.5,389.4 L524.0,391.8 L524.5,395.1 L525.0,398.2 L525.5,400.7 L526.0,402.1 L526.5,402.8 L527.0,403.0 L527.5,403.1 L528.0,403.4 L528.5,404.1 L529.0,404.8 L529.5,405.5 L530.0,405.9 L530.5,406.2 L531.0,406.4 L531.5,406.5 L532.0,406.5 L532.5,406.6 L533.0,406.4 L533.5,406.5 L534.0,406.6 L534.5,406.7 L535.0,406.8 L535.5,406.9 L536.0,406.8 L536.5,406.9 L537.0,406.9 L537.5,406.8 L538.0,406.9 L538.5,406.9 L539.0,406.7 L539.5,406.7 L540.0,406.7 L540.5,406.6 L541.0,406.6 L541.5,406.6 L542.0,406.6 L542.5,406.7 L543.0,406.6 L543.5,406.7 L544.0,406.8 L544.5,406.9 L545.0,406.8 L545.5,406.8 L546.0,406.9 L546.5,407.0 L547.0,406.8 L547.5,406.9 L548.0,406.7 L548.5,406.8 L549.0,406.8 L549.5,406.9 L550.0,406.9 L550.5,406.9 L551.0,406.9 L551.5,407.0 L552.0,406.9 L552.5,407.1 L553.0,407.1 L553.5,407.2 L554.0,407.1 L554.5,407.1 L555.0,407.1 L555.5,407.1 L556.0,407.1 L556.5,407.0 L557.0,407.0 L557.5,407.2 L558.0,407.1 L558.5,407.2 L559.0,407.2 L559.5,407.1 L560.0,407.2 L560.5,407.2 L561.0,407.1 L561.5,407.2 L562.0,407.0 L562.5,407.1 L563.0,407.1 L563.5,407.2 L564.0,407.2 L564.5,407.1 L565.0,407.0 L565.5,407.1 L566.0,407.1 L566.5,407.1 L567.0,407.1 L567.5,407.0 L568.0,407.0 L568.5,407.0 L569.0,406.9 L569.5,406.8 L570.0,406.8 L570.5,406.7 L571.0,406.7 L571.5,406.7 L572.0,406.9 L572.5,406.9 L573.0,406.9 L573.5,406.8 L574.0,406.7 L574.5,406.8 L575.0,406.7 L575.5,406.6 L576.0,406.7 L576.5,406.6 L577.0,406.7 L577.5,406.8 L578.0,406.7 L578.5,406.7 L579.0,406.7 L579.5,406.6 L580.0,406.3 L580.5,405.7 L581.0,405.1 L581.5,404.1 L582.0,403.1 L582.5,401.7 L583.0,400.3 L583.5,399.4 L584.0,399.0 L584.5,399.1 L585.0,400.1 L585.5,400.9 L586.0,402.1 L586.5,402.8 L587.0,403.0 L587.5,402.5 L588.0,400.9 L588.5,398.4 L589.0,395.5 L589.5,392.8 L590.0,392.2 L590.5,394.1 L591.0,397.1 L591.5,400.3 L592.0,402.8 L592.5,404.5 L593.0,405.5 L593.5,405.9 L594.0,406.0 L594.5,406.2 L595.0,406.3 L595.5,406.3 L596.0,406.5 L596.5,406.4 L597.0,406.6 L597.5,406.8 L598.0,406.9 L598.5,407.0 L599.0,407.0 L599.5,406.7 L600.0,407.0 L600.5,407.1 L601.0,406.9 L601.5,406.9 L602.0,406.8 L602.5,406.7 L603.0,406.9 L603.5,406.7 L604.0,406.7 L604.5,406.7 L605.0,406.9 L605.5,406.9 L606.0,406.9 L606.5,406.7 L607.0,406.6 L607.5,406.7 L608.0,406.8 L608.5,406.6 L609.0,406.5 L609.5,406.5 L610.0,406.7 L610.5,406.8 L611.0,406.7 L611.5,406.6 L612.0,406.5 L612.5,406.6 L613.0,406.5 L613.5,406.5 L614.0,406.4 L614.5,406.6 L615.0,406.4 L615.5,406.7 L616.0,406.7 L616.5,406.7 L617.0,406.8 L617.5,406.6 L618.0,406.3 L618.5,406.4 L619.0,406.2 L619.5,406.4 L620.0,406.4 L620.5,406.3 L621.0,406.5 L621.5,406.5 L622.0,406.6 L622.5,406.5 L623.0,406.4 L623.5,406.2 L624.0,406.2 L624.5,406.0 L625.0,405.9 L625.5,405.6 L626.0,405.5 L626.5,405.2 L627.0,405.1 L627.5,405.0 L628.0,405.1 L628.5,405.0" fill="none" stroke="#7ffbfb" stroke-width="3.3" stroke-linejoin="round" stroke-linecap="round" clip-path="url(#c2)"/>
<path d="M134.5,580.2 L135.0,579.8 L135.5,579.7 L136.0,579.4 L136.5,579.3 L137.0,579.0 L137.5,578.8 L138.0,578.7 L138.5,578.4 L139.0,578.1 L139.5,577.8 L140.0,577.7 L140.5,577.5 L141.0,577.2 L141.5,577.0 L142.0,576.7 L142.5,576.4 L143.0,576.1 L143.5,575.9 L144.0,575.7 L144.5,575.4 L145.0,575.0 L145.5,574.8 L146.0,574.4 L146.5,574.0 L147.0,573.7 L147.5,573.4 L148.0,573.1 L148.5,572.7 L149.0,572.4 L149.5,572.1 L150.0,571.8 L150.5,571.4 L151.0,571.1 L151.5,570.8 L152.0,570.5 L152.5,570.1 L153.0,569.8 L153.5,569.5 L154.0,569.3 L154.5,569.0 L155.0,568.8 L155.5,568.5 L156.0,568.2 L156.5,567.9 L157.0,567.8 L157.5,567.5 L158.0,567.3 L158.5,566.9 L159.0,566.7 L159.5,566.5 L160.0,566.2 L160.5,566.0 L161.0,565.6 L161.5,565.4 L162.0,565.3 L162.5,565.1 L163.0,564.9 L163.5,564.6 L164.0,564.4 L164.5,564.3 L165.0,564.0 L165.5,563.6 L166.0,563.9 L166.5,563.6 L167.0,563.3 L167.5,563.0 L168.0,562.7 L168.5,562.6 L169.0,562.4 L169.5,562.0 L170.0,561.9 L170.5,561.9 L171.0,561.9 L171.5,561.5 L172.0,561.2 L172.5,560.8 L173.0,561.2 L173.5,560.7 L174.0,560.7 L174.5,560.5 L175.0,560.1 L175.5,560.6 L176.0,560.3 L176.5,560.3 L177.0,559.7 L177.5,559.8 L178.0,560.0 L178.5,559.6 L179.0,559.4 L179.5,559.3 L180.0,559.2 L180.5,559.6 L181.0,559.3 L181.5,558.9 L182.0,559.6 L182.5,559.5 L183.0,559.4 L183.5,558.6 L184.0,559.1 L184.5,559.3 L185.0,558.6 L185.5,558.6 L186.0,558.8 L186.5,558.2 L187.0,558.6 L187.5,558.8 L188.0,558.7 L188.5,558.8 L189.0,558.4 L189.5,558.3 L190.0,558.2 L190.5,557.9 L191.0,557.7 L191.5,557.8 L192.0,557.8 L192.5,557.7 L193.0,557.8 L193.5,557.8 L194.0,557.9 L194.5,557.5 L195.0,556.9 L195.5,557.1 L196.0,558.0 L196.5,557.6 L197.0,557.0 L197.5,557.0 L198.0,557.1 L198.5,556.9 L199.0,557.0 L199.5,557.2 L200.0,557.4 L200.5,556.8 L201.0,556.8 L201.5,556.7 L202.0,556.7 L202.5,557.0 L203.0,556.2 L203.5,557.2 L204.0,556.5 L204.5,556.7 L205.0,555.8 L205.5,556.0 L206.0,555.9 L206.5,556.0 L207.0,555.0 L207.5,555.7 L208.0,554.7 L208.5,555.3 L209.0,555.4 L209.5,554.9 L210.0,554.7 L210.5,554.7 L211.0,554.5 L211.5,554.7 L212.0,554.8 L212.5,554.4 L213.0,554.7 L213.5,554.0 L214.0,553.6 L214.5,553.4 L215.0,552.9 L215.5,553.1 L216.0,552.8 L216.5,553.6 L217.0,552.8 L217.5,553.2 L218.0,551.5 L218.5,552.4 L219.0,552.5 L219.5,552.1 L220.0,551.6 L220.5,551.5 L221.0,551.3 L221.5,551.0 L222.0,550.9 L222.5,551.0 L223.0,550.5 L223.5,550.4 L224.0,550.1 L224.5,550.0 L225.0,549.3 L225.5,549.5 L226.0,548.7 L226.5,548.7 L227.0,547.7 L227.5,547.6 L228.0,547.2 L228.5,546.5 L229.0,547.2 L229.5,546.8 L230.0,546.4 L230.5,546.5 L231.0,545.5 L231.5,545.3 L232.0,545.3 L232.5,545.3 L233.0,544.0 L233.5,544.2 L234.0,543.3 L234.5,542.6 L235.0,542.7 L235.5,542.7 L236.0,541.9 L236.5,541.5 L237.0,540.5 L237.5,539.5 L238.0,540.2 L238.5,539.1 L239.0,539.3 L239.5,538.6 L240.0,538.5 L240.5,538.4 L241.0,536.8 L241.5,537.1 L242.0,536.6 L242.5,536.8 L243.0,535.8 L243.5,534.9 L244.0,534.6 L244.5,535.1 L245.0,533.4 L245.5,533.4 L246.0,532.9 L246.5,531.9 L247.0,531.6 L247.5,530.5 L248.0,530.5 L248.5,530.6 L249.0,530.1 L249.5,528.6 L250.0,529.4 L250.5,527.8 L251.0,527.4 L251.5,528.1 L252.0,526.9 L252.5,526.1 L253.0,526.3 L253.5,525.0 L254.0,524.6 L254.5,523.8 L255.0,523.5 L255.5,522.9 L256.0,522.7 L256.5,521.5 L257.0,521.0 L257.5,519.4 L258.0,519.0 L258.5,519.3 L259.0,518.3 L259.5,517.7 L260.0,517.3 L260.5,516.3 L261.0,515.8 L261.5,514.9 L262.0,513.5 L262.5,513.8 L263.0,513.4 L263.5,512.5 L264.0,511.3 L264.5,510.8 L265.0,510.0 L265.5,509.6 L266.0,508.8 L266.5,507.4 L267.0,506.7 L267.5,505.8 L268.0,504.8 L268.5,504.1 L269.0,503.3 L269.5,501.6 L270.0,501.9 L270.5,500.5 L271.0,499.1 L271.5,498.4 L272.0,497.2 L272.5,496.9 L273.0,494.8 L273.5,494.4 L274.0,493.5 L274.5,492.1 L275.0,490.8 L275.5,490.3 L276.0,489.0 L276.5,487.5 L277.0,486.1 L277.5,485.7 L278.0,484.9 L278.5,482.9 L279.0,482.1 L279.5,481.2 L280.0,480.1 L280.5,478.3 L281.0,477.8 L281.5,476.7 L282.0,476.5 L282.5,474.5 L283.0,473.9 L283.5,472.8 L284.0,471.8 L284.5,470.2 L285.0,469.9 L285.5,469.4 L286.0,467.7 L286.5,467.2 L287.0,465.8 L287.5,465.4 L288.0,464.7 L288.5,464.1 L289.0,462.8 L289.5,462.1 L290.0,461.4 L290.5,460.9 L291.0,460.0 L291.5,460.1 L292.0,458.0 L292.5,457.6 L293.0,456.1 L293.5,455.4 L294.0,455.0 L294.5,453.6 L295.0,452.7 L295.5,450.8 L296.0,451.5 L296.5,450.2 L297.0,448.1 L297.5,447.0 L298.0,446.3 L298.5,446.0 L299.0,444.8 L299.5,444.3 L300.0,443.2 L300.5,443.7 L301.0,441.6 L301.5,440.6 L302.0,440.8 L302.5,439.4 L303.0,438.6 L303.5,437.8 L304.0,437.4 L304.5,436.3 L305.0,435.9 L305.5,435.0 L306.0,434.0 L306.5,433.9 L307.0,433.5 L307.5,433.7 L308.0,432.6 L308.5,431.8 L309.0,431.5 L309.5,431.4 L310.0,430.0 L310.5,430.5 L311.0,429.6 L311.5,429.6 L312.0,429.9 L312.5,429.9 L313.0,429.9 L313.5,429.7 L314.0,430.1 L314.5,429.7 L315.0,429.5 L315.5,429.2 L316.0,430.1 L316.5,429.8 L317.0,429.0 L317.5,429.0 L318.0,429.7 L318.5,429.9 L319.0,429.6 L319.5,430.4 L320.0,429.7 L320.5,430.5 L321.0,431.1 L321.5,430.7 L322.0,431.2 L322.5,431.3 L323.0,431.5 L323.5,431.0 L324.0,432.1 L324.5,432.6 L325.0,433.0 L325.5,433.7 L326.0,434.2 L326.5,434.2 L327.0,434.6 L327.5,436.0 L328.0,436.1 L328.5,436.3 L329.0,436.6 L329.5,437.7 L330.0,438.4 L330.5,438.5 L331.0,439.4 L331.5,440.0 L332.0,440.8 L332.5,442.4 L333.0,441.9 L333.5,443.6 L334.0,443.7 L334.5,444.8 L335.0,446.2 L335.5,446.4 L336.0,447.4 L336.5,448.2 L337.0,449.4 L337.5,450.5 L338.0,451.8 L338.5,451.6 L339.0,453.0 L339.5,453.0 L340.0,455.0 L340.5,454.7 L341.0,455.6 L341.5,456.8 L342.0,457.6 L342.5,458.4 L343.0,458.8 L343.5,460.7 L344.0,461.5 L344.5,462.1 L345.0,462.7 L345.5,464.1 L346.0,465.2 L346.5,464.9 L347.0,466.1 L347.5,467.5 L348.0,468.0 L348.5,469.3 L349.0,470.4 L349.5,471.7 L350.0,472.8 L350.5,473.7 L351.0,474.7 L351.5,474.8 L352.0,474.9 L352.5,477.1 L353.0,477.9 L353.5,478.7 L354.0,479.1 L354.5,481.1 L355.0,480.7 L355.5,482.4 L356.0,483.3 L356.5,484.3 L357.0,485.3 L357.5,485.7 L358.0,486.4 L358.5,487.0 L359.0,488.3 L359.5,489.1 L360.0,490.3 L360.5,490.5 L361.0,491.2 L361.5,492.7 L362.0,493.7 L362.5,493.7 L363.0,494.6 L363.5,495.6 L364.0,496.8 L364.5,497.5 L365.0,498.6 L365.5,498.9 L366.0,499.9 L366.5,501.0 L367.0,500.9 L367.5,502.6 L368.0,502.2 L368.5,503.0 L369.0,503.1 L369.5,504.3 L370.0,504.7 L370.5,505.4 L371.0,506.4 L371.5,506.5 L372.0,507.3 L372.5,507.1 L373.0,508.5 L373.5,509.8 L374.0,510.0 L374.5,510.9 L375.0,511.0 L375.5,511.5 L376.0,513.2 L376.5,513.6 L377.0,514.1 L377.5,514.3 L378.0,515.3 L378.5,515.2 L379.0,516.2 L379.5,516.9 L380.0,516.9 L380.5,518.6 L381.0,518.6 L381.5,519.4 L382.0,519.0 L382.5,519.6 L383.0,520.4 L383.5,521.3 L384.0,522.0 L384.5,522.2 L385.0,522.6 L385.5,523.3 L386.0,523.5 L386.5,524.1 L387.0,524.7 L387.5,524.8 L388.0,525.6 L388.5,525.3 L389.0,525.9 L389.5,527.0 L390.0,526.9 L390.5,527.7 L391.0,528.0 L391.5,528.2 L392.0,529.4 L392.5,529.2 L393.0,529.2 L393.5,529.6 L394.0,530.3 L394.5,530.0 L395.0,531.5 L395.5,531.4 L396.0,531.1 L396.5,531.7 L397.0,533.0 L397.5,532.7 L398.0,533.6 L398.5,533.2 L399.0,533.6 L399.5,534.5 L400.0,535.0 L400.5,534.2 L401.0,535.4 L401.5,535.0 L402.0,535.6 L402.5,535.6 L403.0,536.8 L403.5,536.3 L404.0,536.6 L404.5,538.0 L405.0,537.7 L405.5,537.4 L406.0,537.0 L406.5,538.2 L407.0,537.5 L407.5,538.4 L408.0,539.3 L408.5,539.6 L409.0,539.7 L409.5,540.0 L410.0,540.0 L410.5,539.7 L411.0,540.3 L411.5,541.2 L412.0,540.5 L412.5,541.1 L413.0,541.4 L413.5,540.8 L414.0,540.9 L414.5,540.7 L415.0,541.8 L415.5,541.5 L416.0,541.4 L416.5,541.5 L417.0,542.6 L417.5,543.1 L418.0,543.1 L418.5,543.1 L419.0,543.4 L419.5,543.4 L420.0,543.6 L420.5,543.4 L421.0,543.3 L421.5,543.5 L422.0,544.0 L422.5,544.9 L423.0,544.1 L423.5,544.3 L424.0,545.2 L424.5,545.5 L425.0,545.2 L425.5,545.4 L426.0,545.7 L426.5,546.1 L427.0,547.3 L427.5,545.8 L428.0,546.3 L428.5,546.0 L429.0,546.4 L429.5,546.7 L430.0,546.9 L430.5,546.7 L431.0,546.8 L431.5,547.9 L432.0,547.7 L432.5,547.7 L433.0,548.0 L433.5,547.5 L434.0,548.5 L434.5,547.7 L435.0,547.7 L435.5,548.0 L436.0,548.5 L436.5,549.8 L437.0,548.9 L437.5,549.2 L438.0,549.9 L438.5,549.1 L439.0,548.7 L439.5,549.1 L440.0,549.2 L440.5,548.8 L441.0,549.4 L441.5,549.6 L442.0,550.5 L442.5,550.1 L443.0,549.8 L443.5,549.6 L444.0,549.6 L444.5,549.2 L445.0,550.1 L445.5,549.2 L446.0,550.2 L446.5,550.9 L447.0,550.1 L447.5,550.5 L448.0,550.0 L448.5,549.6 L449.0,550.7 L449.5,550.7 L450.0,551.2 L450.5,551.1 L451.0,551.3 L451.5,550.9 L452.0,551.5 L452.5,551.9 L453.0,551.3 L453.5,551.5 L454.0,552.3 L454.5,552.1 L455.0,551.9 L455.5,551.4 L456.0,552.0 L456.5,552.9 L457.0,552.0 L457.5,552.1 L458.0,551.8 L458.5,552.3 L459.0,552.4 L459.5,552.4 L460.0,552.2 L460.5,552.1 L461.0,553.6 L461.5,552.8 L462.0,552.4 L462.5,552.7 L463.0,553.0 L463.5,553.1 L464.0,552.8 L464.5,552.7 L465.0,553.1 L465.5,552.5 L466.0,552.7 L466.5,553.7 L467.0,553.3 L467.5,553.1 L468.0,552.9 L468.5,552.7 L469.0,553.3 L469.5,553.1 L470.0,553.8 L470.5,552.8 L471.0,553.1 L471.5,553.1 L472.0,552.8 L472.5,554.2 L473.0,554.0 L473.5,553.7 L474.0,553.2 L474.5,554.0 L475.0,554.1 L475.5,553.7 L476.0,553.4 L476.5,554.6 L477.0,553.2 L477.5,554.3 L478.0,553.7 L478.5,553.9 L479.0,554.6 L479.5,553.7 L480.0,554.2 L480.5,554.3 L481.0,554.7 L481.5,554.6 L482.0,554.1 L482.5,553.6 L483.0,554.7 L483.5,553.9 L484.0,554.3 L484.5,553.3 L485.0,554.2 L485.5,554.4 L486.0,554.0 L486.5,554.6 L487.0,554.8 L487.5,555.0 L488.0,554.1 L488.5,553.7 L489.0,553.3 L489.5,554.2 L490.0,553.8 L490.5,554.8 L491.0,553.7 L491.5,555.0 L492.0,554.6 L492.5,554.0 L493.0,554.6 L493.5,554.6 L494.0,554.7 L494.5,554.6 L495.0,554.9 L495.5,554.8 L496.0,554.3 L496.5,554.6 L497.0,553.9 L497.5,554.6 L498.0,553.7 L498.5,554.2 L499.0,554.0 L499.5,554.8 L500.0,554.5 L500.5,554.0 L501.0,554.6 L501.5,554.3 L502.0,554.6 L502.5,554.5 L503.0,554.4 L503.5,554.4 L504.0,553.8 L504.5,554.8 L505.0,554.9 L505.5,554.2 L506.0,554.8 L506.5,555.1 L507.0,555.0 L507.5,555.2 L508.0,555.1 L508.5,554.6 L509.0,555.8 L509.5,554.8 L510.0,554.6 L510.5,555.4 L511.0,554.5 L511.5,555.1 L512.0,554.6 L512.5,555.5 L513.0,555.4 L513.5,554.8 L514.0,555.4 L514.5,555.4 L515.0,555.0 L515.5,555.2 L516.0,555.1 L516.5,554.8 L517.0,554.6 L517.5,555.2 L518.0,555.5 L518.5,555.5 L519.0,555.4 L519.5,555.6 L520.0,555.1 L520.5,555.8 L521.0,554.7 L521.5,555.4 L522.0,555.0 L522.5,554.9 L523.0,556.0 L523.5,555.4 L524.0,554.6 L524.5,555.3 L525.0,554.9 L525.5,556.0 L526.0,554.9 L526.5,555.4 L527.0,555.3 L527.5,555.3 L528.0,555.8 L528.5,556.0 L529.0,556.0 L529.5,555.2 L530.0,555.1 L530.5,555.7 L531.0,555.2 L531.5,556.3 L532.0,555.0 L532.5,555.9 L533.0,555.2 L533.5,555.2 L534.0,555.0 L534.5,555.0 L535.0,555.8 L535.5,555.2 L536.0,555.1 L536.5,555.0 L537.0,555.1 L537.5,555.2 L538.0,555.8 L538.5,555.8 L539.0,555.8 L539.5,556.0 L540.0,556.4 L540.5,555.7 L541.0,556.2 L541.5,555.5 L542.0,555.6 L542.5,556.3 L543.0,556.0 L543.5,555.9 L544.0,555.7 L544.5,556.3 L545.0,557.0 L545.5,556.2 L546.0,556.4 L546.5,556.1 L547.0,556.6 L547.5,556.1 L548.0,557.6 L548.5,556.5 L549.0,556.4 L549.5,556.9 L550.0,556.1 L550.5,556.3 L551.0,556.4 L551.5,556.6 L552.0,557.6 L552.5,556.5 L553.0,558.1 L553.5,557.5 L554.0,557.7 L554.5,557.3 L555.0,556.7 L555.5,556.8 L556.0,557.9 L556.5,557.3 L557.0,557.7 L557.5,557.8 L558.0,558.3 L558.5,558.4 L559.0,558.0 L559.5,557.9 L560.0,558.2 L560.5,557.5 L561.0,557.7 L561.5,557.5 L562.0,557.7 L562.5,557.4 L563.0,558.6 L563.5,558.0 L564.0,559.0 L564.5,558.0 L565.0,558.2 L565.5,558.0 L566.0,558.6 L566.5,558.5 L567.0,558.2 L567.5,558.5 L568.0,558.2 L568.5,558.2 L569.0,558.1 L569.5,559.0 L570.0,558.3 L570.5,558.2 L571.0,559.0 L571.5,558.6 L572.0,558.1 L572.5,558.2 L573.0,558.4 L573.5,558.3 L574.0,558.8 L574.5,558.5 L575.0,558.6 L575.5,559.5 L576.0,560.1 L576.5,560.0 L577.0,559.4 L577.5,559.7 L578.0,559.5 L578.5,560.3 L579.0,559.7 L579.5,560.0 L580.0,560.6 L580.5,560.4 L581.0,560.1 L581.5,559.8 L582.0,560.2 L582.5,559.8 L583.0,561.2 L583.5,560.6 L584.0,561.0 L584.5,560.9 L585.0,560.5 L585.5,561.2 L586.0,561.2 L586.5,561.0 L587.0,561.0 L587.5,561.3 L588.0,560.7 L588.5,561.0 L589.0,560.9 L589.5,561.0 L590.0,561.4 L590.5,560.5 L591.0,561.0 L591.5,561.7 L592.0,562.7 L592.5,562.4 L593.0,562.0 L593.5,563.0 L594.0,562.4 L594.5,561.9 L595.0,562.3 L595.5,562.9 L596.0,562.6 L596.5,561.9 L597.0,562.0 L597.5,562.9 L598.0,562.2 L598.5,562.5 L599.0,563.1 L599.5,562.6 L600.0,562.7 L600.5,563.2 L601.0,562.9 L601.5,563.7 L602.0,563.3 L602.5,563.6 L603.0,563.7 L603.5,563.1 L604.0,563.9 L604.5,564.1 L605.0,563.5 L605.5,563.4 L606.0,563.7 L606.5,564.6 L607.0,564.2 L607.5,564.1 L608.0,563.9 L608.5,564.4 L609.0,564.1 L609.5,565.0 L610.0,564.3 L610.5,564.0 L611.0,565.1 L611.5,564.9 L612.0,565.0 L612.5,564.5 L613.0,565.2 L613.5,565.3 L614.0,565.1 L614.5,565.5 L615.0,565.5 L615.5,565.2 L616.0,566.0 L616.5,565.6 L617.0,565.6 L617.5,566.0 L618.0,565.9 L618.5,566.5 L619.0,566.1 L619.5,566.1 L620.0,566.3 L620.5,566.8 L621.0,566.2 L621.5,566.3 L622.0,566.8 L622.5,567.2 L623.0,567.4 L623.5,567.1 L624.0,566.7 L624.5,566.8 L625.0,567.6 L625.5,567.6 L626.0,568.0 L626.5,568.3 L627.0,567.5 L627.5,568.4 L628.0,567.8 L628.5,568.0" fill="none" stroke="#0b7ec5" stroke-width="3.4" stroke-linejoin="round" stroke-linecap="butt"/>
<g stroke="#111" stroke-width="1.4" fill="none" stroke-linecap="square">
<rect x="79.7" y="2.3" width="603.15" height="598.95"/>
<line x1="79.7" y1="216.5" x2="682.85" y2="216.5"/>
<line x1="79.7" y1="415.2" x2="682.85" y2="415.2"/>
</g>
<g stroke="#111" stroke-width="1.3" fill="none">
<line x1="79.7" y1="212.5" x2="85.4" y2="212.5"/>
<line x1="79.7" y1="170.4" x2="82.7" y2="170.4"/>
<line x1="79.7" y1="128.4" x2="85.4" y2="128.4"/>
<line x1="79.7" y1="86.3" x2="82.7" y2="86.3"/>
<line x1="79.7" y1="44.2" x2="85.4" y2="44.2"/>
<line x1="79.7" y1="411.5" x2="85.4" y2="411.5"/>
<line x1="79.7" y1="372.7" x2="82.7" y2="372.7"/>
<line x1="79.7" y1="333.9" x2="85.4" y2="333.9"/>
<line x1="79.7" y1="295.1" x2="82.7" y2="295.1"/>
<line x1="79.7" y1="256.3" x2="85.4" y2="256.3"/>
<line x1="79.7" y1="217.5" x2="82.7" y2="217.5"/>
<line x1="79.7" y1="563.8" x2="82.7" y2="563.8"/>
<line x1="79.7" y1="526.6" x2="85.4" y2="526.6"/>
<line x1="79.7" y1="489.3" x2="82.7" y2="489.3"/>
<line x1="79.7" y1="452.0" x2="85.4" y2="452.0"/>
<line x1="79.7" y1="414.6" x2="82.7" y2="414.6"/>
<line x1="134.5" y1="601.25" x2="134.5" y2="598.25"/>
<line x1="189.4" y1="601.25" x2="189.4" y2="595.65"/>
<line x1="244.2" y1="601.25" x2="244.2" y2="598.25"/>
<line x1="299.0" y1="601.25" x2="299.0" y2="595.65"/>
<line x1="353.8" y1="601.25" x2="353.8" y2="598.25"/>
<line x1="408.7" y1="601.25" x2="408.7" y2="595.65"/>
<line x1="463.5" y1="601.25" x2="463.5" y2="598.25"/>
<line x1="518.3" y1="601.25" x2="518.3" y2="595.65"/>
<line x1="573.2" y1="601.25" x2="573.2" y2="598.25"/>
<line x1="628.0" y1="601.25" x2="628.0" y2="595.65"/>
</g>
<text transform="translate(76.30,219.17) scale(1.0,1.06)" font-family='"Liberation Serif", serif' font-size="20.0" font-weight="bold" text-anchor="end" fill="#000">0.0</text>
<text transform="translate(76.30,134.83) scale(1.0,1.06)" font-family='"Liberation Serif", serif' font-size="20.0" font-weight="bold" text-anchor="end" fill="#000">2.0M</text>
<text transform="translate(76.30,50.89) scale(1.0,1.06)" font-family='"Liberation Serif", serif' font-size="20.0" font-weight="bold" text-anchor="end" fill="#000">4.0M</text>
<text transform="translate(76.00,417.80) scale(1.0,1.07)" font-family='"Liberation Serif", serif' font-size="18.8" font-weight="bold" text-anchor="end" fill="#000">0.0</text>
<text transform="translate(76.00,340.20) scale(1.0,1.07)" font-family='"Liberation Serif", serif' font-size="18.8" font-weight="bold" text-anchor="end" fill="#000">2.0M</text>
<text transform="translate(76.00,262.60) scale(1.0,1.07)" font-family='"Liberation Serif", serif' font-size="18.8" font-weight="bold" text-anchor="end" fill="#000">4.0M</text>
<text transform="translate(76.30,607.00) scale(1.0,1.04)" font-family='"Liberation Serif", serif' font-size="18.2" font-weight="bold" text-anchor="end" fill="#000">0.0</text>
<text transform="translate(76.30,532.95) scale(1.0,1.04)" font-family='"Liberation Serif", serif' font-size="18.2" font-weight="bold" text-anchor="end" fill="#000">200.0k</text>
<text transform="translate(76.30,458.40) scale(1.0,1.04)" font-family='"Liberation Serif", serif' font-size="18.2" font-weight="bold" text-anchor="end" fill="#000">400.0k</text>
<text transform="translate(79.70,621.70) scale(1.0,1.05)" font-family='"Liberation Serif", serif' font-size="23.6" font-weight="bold" text-anchor="middle" fill="#000">0</text>
<text transform="translate(189.36,621.70) scale(1.0,1.05)" font-family='"Liberation Serif", serif' font-size="23.6" font-weight="bold" text-anchor="middle" fill="#000">10</text>
<text transform="translate(299.02,621.70) scale(1.0,1.05)" font-family='"Liberation Serif", serif' font-size="23.6" font-weight="bold" text-anchor="middle" fill="#000">20</text>
<text transform="translate(408.68,621.70) scale(1.0,1.05)" font-family='"Liberation Serif", serif' font-size="23.6" font-weight="bold" text-anchor="middle" fill="#000">30</text>
<text transform="translate(518.34,621.70) scale(1.0,1.05)" font-family='"Liberation Serif", serif' font-size="23.6" font-weight="bold" text-anchor="middle" fill="#000">40</text>
<text transform="translate(628.00,621.70) scale(1.0,1.05)" font-family='"Liberation Serif", serif' font-size="23.6" font-weight="bold" text-anchor="middle" fill="#000">50</text>
<text transform="translate(364.60,651.60) scale(1.0,1.03)" font-family='"Liberation Serif", serif' font-size="23.2" font-weight="bold" text-anchor="middle" fill="#000" word-spacing="1.8">2 Theta (Degree)</text>
<text transform="translate(19.6,94.1) rotate(-90)" font-family='"Liberation Serif", serif' font-size="25.6" font-weight="bold" text-anchor="middle" fill="#000">Intensity (a.u.)</text>
<text transform="translate(19.0,300) rotate(-90)" font-family='"Liberation Serif", serif' font-size="24.6" font-weight="bold" text-anchor="middle" fill="#000">Intensity (a.u.)</text>
<text transform="translate(16.9,500.3) rotate(-90)" font-family='"Liberation Serif", serif' font-size="24.1" font-weight="bold" text-anchor="middle" fill="#000">Intensity (a.u.)</text>
<line x1="98.8" y1="22.7" x2="140.4" y2="22.7" stroke="#fec381" stroke-width="3.4" stroke-linecap="round"/>
<text x="146.00" y="28.50" font-family='"Liberation Serif", serif' font-size="18.5" font-weight="bold" text-anchor="start" fill="#000">YPM50</text>
<line x1="98" y1="238.6" x2="136.8" y2="238.6" stroke="#7ffbfb" stroke-width="3.3" stroke-linecap="round"/>
<text x="142.60" y="244.50" font-family='"Liberation Serif", serif' font-size="17.2" font-weight="bold" text-anchor="start" fill="#000">MA</text>
<line x1="99.5" y1="438.5" x2="137.5" y2="438.5" stroke="#0b7ec5" stroke-width="3.0" stroke-linecap="round"/>
<text x="142.60" y="443.80" font-family='"Liberation Serif", serif' font-size="16.6" font-weight="bold" text-anchor="start" fill="#000">YP</text>
<path d="M148.0,170.4 L153.8,177.4 L148.0,184.4 L142.2,177.4 Z" fill="#000"/>
<path d="M178.3,86.5 L184.1,93.5 L178.3,100.5 L172.5,93.5 Z" fill="#000"/>
<path d="M241.6,167.1 L247.4,174.1 L241.6,181.1 L235.8,174.1 Z" fill="#000"/>
<path d="M322.1,142.6 L327.9,149.6 L322.1,156.6 L316.3,149.6 Z" fill="#000"/>
<path d="M348.9,155.8 L354.7,162.8 L348.9,169.8 L343.1,162.8 Z" fill="#000"/>
<path d="M527.0,179.5 L532.8,186.5 L527.0,193.5 L521.2,186.5 Z" fill="#000"/>
<path d="M592.1,184.4 L597.9,191.4 L592.1,198.4 L586.3,191.4 Z" fill="#000"/>
<path d="M146.1,360.2 L151.8,367.2 L146.1,374.2 L140.4,367.2 Z" fill="#000"/>
<path d="M176.8,213.6 L182.5,220.6 L176.8,227.6 L171.1,220.6 Z" fill="#000"/>
<path d="M238.7,346.8 L244.4,353.8 L238.7,360.8 L233.0,353.8 Z" fill="#000"/>
<path d="M320.4,358.8 L326.1,365.8 L320.4,372.8 L314.7,365.8 Z" fill="#000"/>
<path d="M346.9,353.8 L352.6,360.8 L346.9,367.8 L341.2,360.8 Z" fill="#000"/>
<path d="M524.4,374.9 L530.1,381.9 L524.4,388.9 L518.7,381.9 Z" fill="#000"/>
<path d="M590.3,376.6 L596.0,383.6 L590.3,390.6 L584.6,383.6 Z" fill="#000"/>
<text transform="translate(135.10,169.20) scale(1.0,1.06)" font-family='"Liberation Serif", serif' font-size="15.6" font-weight="bold" text-anchor="start" fill="#000">6.28<tspan font-weight="normal">°</tspan></text>
<text transform="translate(164.90,86.50) scale(1.0,1.06)" font-family='"Liberation Serif", serif' font-size="15.6" font-weight="bold" text-anchor="start" fill="#000">9.13<tspan font-weight="normal">°</tspan></text>
<text transform="translate(227.70,167.20) scale(1.0,1.06)" font-family='"Liberation Serif", serif' font-size="15.6" font-weight="bold" text-anchor="start" fill="#000">14.67<tspan font-weight="normal">°</tspan></text>
<text transform="translate(305.70,145.20) scale(1.0,1.06)" font-family='"Liberation Serif", serif' font-size="15.6" font-weight="bold" text-anchor="start" fill="#000">22.02<tspan font-weight="normal">°</tspan></text>
<text transform="translate(337.90,156.30) scale(1.0,1.06)" font-family='"Liberation Serif", serif' font-size="15.6" font-weight="bold" text-anchor="start" fill="#000">24.58<tspan font-weight="normal">°</tspan></text>
<text transform="translate(510.10,178.50) scale(1.0,1.06)" font-family='"Liberation Serif", serif' font-size="15.6" font-weight="bold" text-anchor="start" fill="#000">40.65<tspan font-weight="normal">°</tspan></text>
<text transform="translate(580.00,183.10) scale(1.0,1.06)" font-family='"Liberation Serif", serif' font-size="15.6" font-weight="bold" text-anchor="start" fill="#000">46.69<tspan font-weight="normal">°</tspan></text>
<text transform="translate(133.40,357.80) scale(1.0,1.08)" font-family='"Liberation Serif", serif' font-size="14.8" font-weight="bold" text-anchor="start" fill="#000">6.04<tspan font-weight="normal">°</tspan></text>
<text transform="translate(184.20,242.40) scale(1.0,1.08)" font-family='"Liberation Serif", serif' font-size="14.8" font-weight="bold" text-anchor="start" fill="#000">8.99<tspan font-weight="normal">°</tspan></text>
<text transform="translate(230.40,344.40) scale(1.0,1.08)" font-family='"Liberation Serif", serif' font-size="14.8" font-weight="bold" text-anchor="start" fill="#000">14.51<tspan font-weight="normal">°</tspan></text>
<text transform="translate(303.50,358.90) scale(1.0,1.08)" font-family='"Liberation Serif", serif' font-size="14.8" font-weight="bold" text-anchor="start" fill="#000">21.97<tspan font-weight="normal">°</tspan></text>
<text transform="translate(342.00,353.90) scale(1.0,1.08)" font-family='"Liberation Serif", serif' font-size="14.8" font-weight="bold" text-anchor="start" fill="#000">24.44<tspan font-weight="normal">°</tspan></text>
<text transform="translate(504.00,371.90) scale(1.0,1.08)" font-family='"Liberation Serif", serif' font-size="14.8" font-weight="bold" text-anchor="start" fill="#000">40.44<tspan font-weight="normal">°</tspan></text>
<text transform="translate(577.00,375.40) scale(1.0,1.08)" font-family='"Liberation Serif", serif' font-size="14.8" font-weight="bold" text-anchor="start" fill="#000">46.51<tspan font-weight="normal">°</tspan></text>
<line x1="421.9" y1="154.6" x2="369.0" y2="204.2" stroke="#000" stroke-width="1.8"/>
<path d="M361.8,210.9 L367.7,200.0 L373.1,205.7 Z" fill="#000"/>
<line x1="385.8" y1="455.2" x2="332.3" y2="506.3" stroke="#000" stroke-width="1.8"/>
<path d="M325.2,513.1 L331.0,502.1 L336.4,507.8 Z" fill="#000"/>
<text x="416.80" y="151.70" font-family='"Liberation Sans", sans-serif' font-size="18.35" font-weight="normal" text-anchor="start" fill="#000" xml:space="preserve">amorphous  polymer</text>
<text x="394.40" y="458.40" font-family='"Liberation Sans", sans-serif' font-size="18.35" font-weight="normal" text-anchor="start" fill="#000" xml:space="preserve">amorphous  polymer</text>
</svg>
</body></html>
